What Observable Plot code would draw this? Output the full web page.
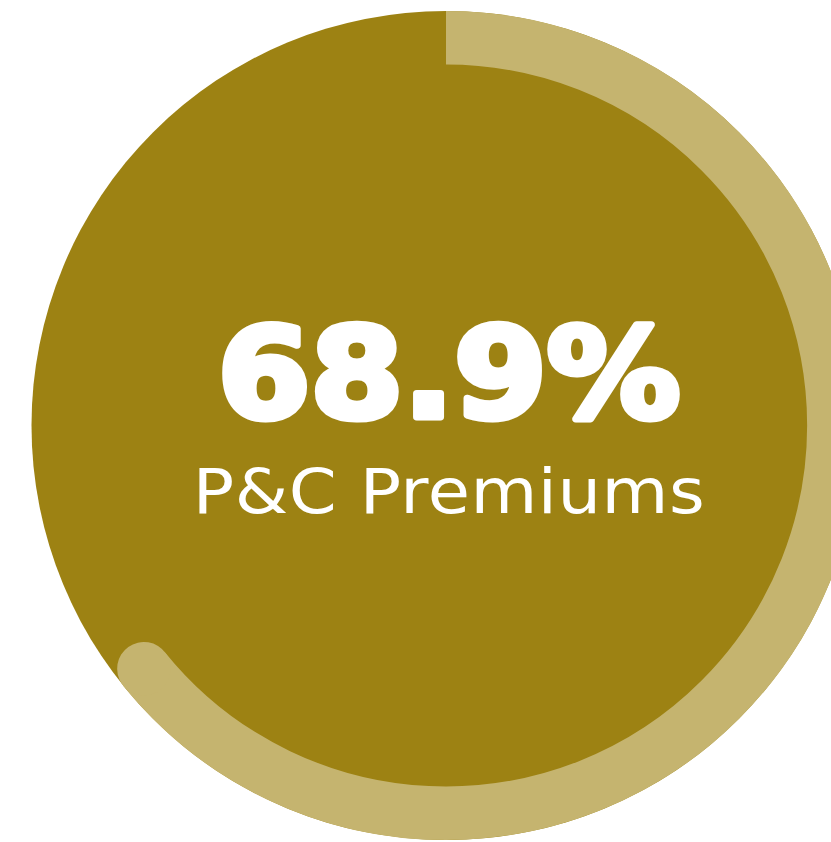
<!DOCTYPE html>
<html><head><meta charset="utf-8">
<script src="https://cdn.jsdelivr.net/npm/d3@7"></script>
<script src="https://cdn.jsdelivr.net/npm/@observablehq/plot@0.6"></script>
<style>html,body{margin:0;padding:0;background:#fff;overflow:hidden}</style>
</head><body><div id="chart"></div>
<script>
// Data
const headline = ["68.9%"];
const label = ["P&C Premiums"];
const shareValue = [68.9];
const arcSweepPct = [64.2]; // sweep of the light arc as drawn (percent of full turn)

const dark = "#9D8213";
const light = "#C5B46F";

const W = 831, H = 842;
const rOuter = 414.5, ringWidth = 53.5, rMid = rOuter - ringWidth / 2;
const C = 2 * Math.PI * rMid;
const dash = arcSweepPct[0] / 100 * C;

// circle path that starts at angle 0 so the dash pattern can follow it
const arcSymbol = {draw(ctx, size) { const r = Math.sqrt(size / Math.PI); ctx.moveTo(r, 0); ctx.arc(0, 0, r, 0, 2 * Math.PI); }};

const plot = Plot.plot({
  width: W, height: H,
  marginLeft: 60, marginRight: 0, marginTop: 8, marginBottom: 0,
  style: {background: "transparent", overflow: "visible"},
  marks: [
    Plot.dot(shareValue, {frameAnchor: "middle", r: rOuter, fill: dark, stroke: "none"}),
    Plot.dot(shareValue, {frameAnchor: "middle", r: rMid, symbol: arcSymbol, rotate: -90, fill: "none",
      stroke: light, strokeWidth: ringWidth, strokeDasharray: `${dash} ${C}`, strokeLinecap: "butt"}),
    Plot.dot(shareValue, {frameAnchor: "middle", r: rMid, symbol: arcSymbol, rotate: -90, fill: "none",
      stroke: light, strokeWidth: ringWidth, strokeDasharray: `0.001 ${C}`, strokeDashoffset: -dash, strokeLinecap: "round"}),
    Plot.text(headline, {frameAnchor: "middle", text: d => d, fontFamily: "DejaVu Sans", fontWeight: "bold",
      fontSize: 124, fill: "white", stroke: "white", strokeWidth: 7, lineAnchor: "bottom", dy: -9, dx: 3, textAnchor: "middle"}),
    Plot.text(label, {frameAnchor: "middle", text: d => d, fontFamily: "DejaVu Sans", fontWeight: "normal",
      fontSize: 63, fill: "white", lineAnchor: "bottom", dy: 87, dx: 3, textAnchor: "middle"})
  ]
});
const gs = plot.querySelectorAll('g[aria-label="text"]');
function stretch(g, sx) {
  if (!g) return;
  g.querySelectorAll("text").forEach(t => {
    const tr = t.getAttribute("transform") || "";
    t.setAttribute("transform", tr + ` scale(${sx},1)`);
  });
}
stretch(gs[0], 1.075);
stretch(gs[1], 1.09);
if (gs[1]) gs[1].setAttribute("letter-spacing", "0.5");
document.getElementById("chart").appendChild(plot);
</script>
</body></html>
